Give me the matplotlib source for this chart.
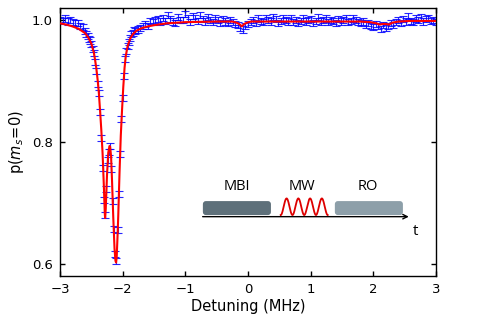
import numpy as np
import matplotlib
matplotlib.use("Agg")
import matplotlib.pyplot as plt
from matplotlib.patches import FancyBboxPatch

# ---------------- data ----------------
# left flat segment, step 0.04 MHz
x_left = np.round(np.arange(-3.00, -2.63, 0.04), 2)
y_left = [1.000, 0.998, 1.002, 0.997, 0.999, 0.996, 0.994, 0.995, 0.990, 0.988]

# dip region, step 0.02 MHz
x_dip = np.round(np.arange(-2.60, -1.79, 0.02), 2)
y_dip = [0.981, 0.976, 0.973, 0.968, 0.966, 0.960, 0.952, 0.946, 0.930, 0.916,
         0.895, 0.880, 0.849, 0.806, 0.757, 0.705, 0.680, 0.722, 0.770, 0.783,
         0.793, 0.755, 0.703, 0.657, 0.616, 0.605, 0.655, 0.715, 0.780, 0.838,
         0.872, 0.908, 0.935, 0.948, 0.957, 0.963, 0.970, 0.976, 0.978, 0.983,
         0.981]

# right flat segment, step 0.04 MHz
x_right = np.round(np.arange(-1.76, 3.001, 0.04), 2)
y_right = [0.984, 0.986, 0.990, 0.993, 0.989, 0.998, 0.996, 0.999, 1.001, 0.997,
           1.003, 0.998, 1.008, 1.001, 0.997, 0.995, 1.005, 1.000, 0.999, 1.009,
           1.002, 0.996, 1.006, 1.003, 0.998, 1.007, 1.001, 0.997, 1.004, 0.999,
           0.996, 1.002, 0.999, 0.995, 1.001, 0.997, 0.994, 1.000, 0.996, 0.993,
           0.991, 0.986, 0.984, 0.990, 0.993, 0.996, 0.999, 0.995, 1.002, 0.998,
           0.996, 1.003, 0.999, 0.997, 1.005, 1.001, 0.995, 0.998, 1.002, 0.999,
           0.997, 1.003, 0.996, 1.000, 0.994, 0.998, 1.002, 0.997, 0.999, 1.001,
           0.995, 0.998, 1.004, 0.997, 0.999, 1.002, 0.996, 1.000, 0.998, 0.995,
           1.001, 0.997, 0.999, 1.003, 0.996, 0.998, 1.002, 0.999, 0.996, 0.994,
           0.997, 0.992, 0.995, 0.990, 0.988, 0.993, 0.989, 0.985, 0.991, 0.987,
           0.990, 0.994, 0.992, 0.996, 0.999, 0.995, 1.001, 0.997, 1.006, 0.998,
           0.996, 1.002, 0.999, 1.004, 0.997, 1.001, 1.003, 0.998, 1.000, 0.996]

y_err = 0.005

# fitted curve
fit_x = [-3.00, -2.90, -2.80, -2.70, -2.60, -2.55, -2.50, -2.46, -2.44, -2.42,
         -2.40, -2.38, -2.36, -2.34, -2.32, -2.30, -2.285, -2.28, -2.27, -2.25,
         -2.23, -2.21, -2.20, -2.185, -2.17, -2.15, -2.13, -2.115, -2.105, -2.095,
         -2.08, -2.07, -2.05, -2.03, -2.01, -1.99, -1.97, -1.95, -1.92, -1.88,
         -1.84, -1.78, -1.70, -1.60, -1.50, -1.30, -1.00, -0.50, -0.25, -0.18,
         -0.14, -0.10, -0.06, -0.02, 0.05, 0.50, 1.00, 1.50, 1.80, 1.95,
         2.05, 2.10, 2.15, 2.20, 2.25, 2.30, 2.40, 2.60, 3.00]
fit_y = [0.994, 0.992, 0.989, 0.985, 0.978, 0.971, 0.961, 0.946, 0.934, 0.920,
         0.902, 0.880, 0.850, 0.818, 0.780, 0.727, 0.682, 0.675, 0.690, 0.745,
         0.782, 0.793, 0.792, 0.776, 0.737, 0.676, 0.625, 0.605, 0.602, 0.612,
         0.650, 0.680, 0.750, 0.810, 0.852, 0.890, 0.921, 0.941, 0.957, 0.969,
         0.976, 0.982, 0.986, 0.989, 0.991, 0.994, 0.996, 0.997, 0.997, 0.995,
         0.993, 0.989, 0.993, 0.995, 0.997, 0.997, 0.997, 0.997, 0.997, 0.996,
         0.994, 0.992, 0.993, 0.993, 0.992, 0.995, 0.997, 0.998, 0.998]

x_ticks = [-3, -2, -1, 0, 1, 2, 3]
y_ticks = [0.6, 0.8, 1.0]
y_ticklabels = ["0.6", "0.8", "1.0"]
inset_labels = ["MBI", "MW", "RO"]

# ---------------- figure ----------------
fig = plt.figure(figsize=(4.85, 3.20), dpi=100)
ax = fig.add_axes([60 / 485, 44 / 320, 376 / 485, 268.5 / 320])

x_all = np.concatenate([x_left, x_dip, x_right])
y_all = np.concatenate([y_left, y_dip, y_right])
ax.errorbar(x_all, y_all, yerr=y_err, fmt='none', ecolor='#0000ff',
            elinewidth=0.8, capsize=3.2, capthick=0.8, alpha=0.85, zorder=2)
ax.plot(fit_x, fit_y, color='#ff0000', lw=1.5, zorder=3)

ax.set_xlim(-3, 3)
ax.set_ylim(0.58, 1.02)
ax.set_xticks(x_ticks)
ax.set_xticklabels([f"\u2212{abs(v)}" if v < 0 else str(v) for v in x_ticks])
ax.set_yticks(y_ticks)
ax.set_yticklabels(y_ticklabels)
ax.tick_params(direction='in', top=True, right=True, length=3.5, width=1,
               labelsize=9.5, pad=5)
for s in ax.spines.values():
    s.set_linewidth(1.0)
ax.set_xlabel("Detuning (MHz)", fontsize=10.5, labelpad=2)
ax.set_ylabel(r"p($m_s\!=\!0$)", fontsize=10.5, labelpad=4)

# ---------------- inset (pulse sequence) ----------------
tr = ax.transAxes
box_y0, box_h = 0.227, 0.052
for (x0, x1, col) in [(0.380, 0.561, '#5e707a'), (0.731, 0.912, '#8d9fa9')]:
    ax.add_patch(FancyBboxPatch((x0, box_y0), x1 - x0, box_h,
                                boxstyle="round,pad=0,rounding_size=0.008",
                                mutation_aspect=1.4, transform=tr,
                                facecolor=col, edgecolor='none', zorder=4))
t = np.linspace(0, 1, 200)
wx = 0.587 + t * (0.712 - 0.587)
wy = 0.258 - 0.031 * np.cos(2 * np.pi * 4 * t)
ax.plot(wx, wy, color='#dd0000', lw=1.3, transform=tr, zorder=4)
ax.annotate('', xy=(0.935, 0.221), xytext=(0.372, 0.221), xycoords=tr,
            arrowprops=dict(arrowstyle='->', color='black', lw=1.0,
                            mutation_scale=8), zorder=4)
ax.text(0.938, 0.165, 't', transform=tr, fontsize=11, family='Open Sans',
        ha='left', va='center', zorder=4)
for lab, xc in zip(inset_labels, [0.471, 0.644, 0.819]):
    ax.text(xc, 0.335, lab, transform=tr, fontsize=10.5, family='Open Sans',
            ha='center', va='center', zorder=4)

fig.savefig("out.png", dpi=100)
